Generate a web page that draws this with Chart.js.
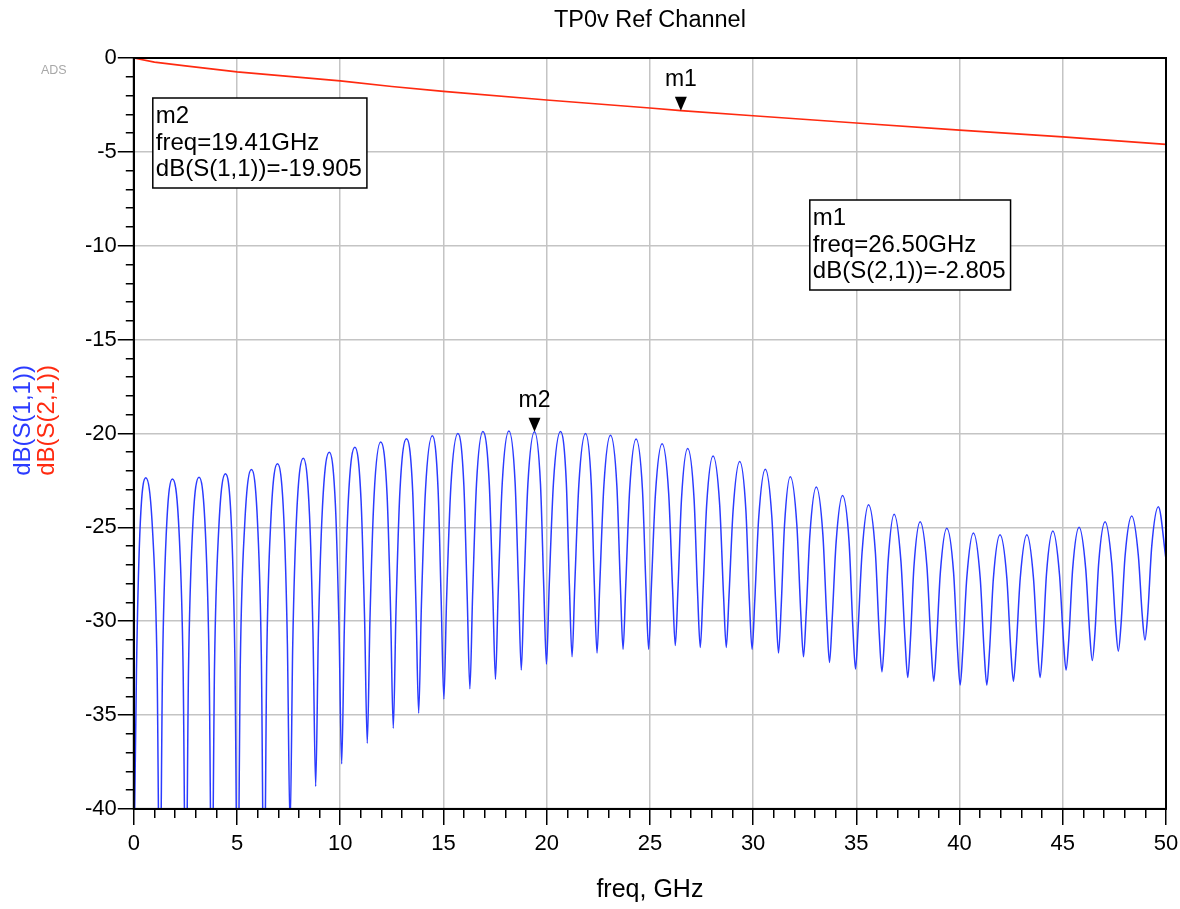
<!DOCTYPE html>
<html lang="en">
<head>
  <meta charset="UTF-8">
  <title>TP0v Ref Channel</title>
  <script src="https://cdn.jsdelivr.net/npm/chart.js"></script>
  <style>
    html, body { margin: 0; padding: 0; background: #fff; }
    #plot { display: block; }
  </style>
</head>
<body>
<canvas id="plot" width="1180" height="909"></canvas>
<script>
  // S(2,1): insertion loss
  const s21GHz = [0, 1, 2.5, 5, 7.5, 10, 12.5, 15, 20, 25, 26.5, 30, 35, 40, 45, 50];
  const s21Db = [0, -0.22, -0.42, -0.74, -0.98, -1.22, -1.52, -1.78, -2.24, -2.66, -2.805, -3.08, -3.46, -3.84, -4.2, -4.6];

  // S(1,1): ripple nulls, ripple peaks, the mid-slope points and the points just beside each null
  const nullGHz = [0, 1.26, 2.52, 3.78, 5.03, 6.31, 7.57, 8.81, 10.07, 11.31, 12.57, 13.80, 15.02, 16.28, 17.52, 18.77, 19.99, 21.23, 22.44, 23.70,
    24.94, 26.23, 27.44, 28.70, 29.95, 31.23, 32.44, 33.70, 34.96, 36.24, 37.49, 38.75, 40.03, 41.32, 42.61, 43.90, 45.16, 46.43, 47.69, 48.98];
  const nullDb = [-44, -46, -46, -46, -46, -46, -41, -38.8, -37.6, -36.5, -35.7, -34.9, -34.15, -33.6, -33.1, -32.6, -32.3, -31.9, -31.7, -31.5,
    -31.5, -31.3, -31.4, -31.4, -31.5, -31.7, -31.9, -32.2, -32.55, -32.7, -33.0, -33.2, -33.4, -33.4, -33.2, -33.0, -32.6, -32.1, -31.6, -31.0];
  const nearRiseGHz = [0.13, 1.39, 2.65, 3.91, 5.16, 6.44, 7.70, 8.94, 10.20, 11.44, 12.70, 13.93, 15.15, 16.41, 17.65, 18.90, 20.12, 21.36, 22.57, 23.83,
    25.07, 26.36, 27.57, 28.83, 30.08, 31.36, 32.57, 33.83, 35.09, 36.37, 37.62, 38.88, 40.16, 41.45, 42.74, 44.03, 45.29, 46.56, 47.82, 49.11];
  const nearFallGHz = [1.13, 2.39, 3.65, 4.90, 6.18, 7.44, 8.68, 9.94, 11.18, 12.44, 13.67, 14.89, 16.15, 17.39, 18.64, 19.86, 21.10, 22.31, 23.57,
    24.81, 26.10, 27.31, 28.57, 29.82, 31.10, 32.31, 33.57, 34.83, 36.11, 37.36, 38.62, 39.90, 41.19, 42.48, 43.77, 45.03, 46.30, 47.56, 48.85];
  const nearNullDb = [-32.6, -32.6, -32.6, -32.4, -32.2, -32.0, -31.2, -30.7, -30.3, -29.9, -29.5, -29.2, -28.9, -28.7, -28.5, -28.3, -28.2, -28.1, -28.1, -28.1,
    -28.2, -28.3, -28.5, -28.7, -28.9, -29.2, -29.6, -29.9, -30.3, -30.7, -31.0, -31.3, -31.5, -31.6, -31.5, -31.3, -31.0, -30.6, -30.2, -29.7];
  const peakGHz = [0.58, 1.87, 3.16, 4.44, 5.70, 6.96, 8.21, 9.47, 10.71, 11.96, 13.21, 14.46, 15.70, 16.91, 18.17, 19.41, 20.67, 21.88, 23.09, 24.33,
    25.59, 26.83, 28.06, 29.35, 30.59, 31.80, 33.06, 34.33, 35.59, 36.83, 38.09, 39.38, 40.67, 41.96, 43.26, 44.52, 45.79, 47.05, 48.34, 49.63];
  const peakDb = [-22.36, -22.42, -22.33, -22.15, -21.92, -21.62, -21.32, -21.0, -20.73, -20.46, -20.28, -20.12, -20.0, -19.9, -19.87, -19.905, -19.9, -20.0, -20.1, -20.3,
    -20.55, -20.8, -21.2, -21.5, -21.9, -22.3, -22.85, -23.3, -23.8, -24.3, -24.7, -25.05, -25.3, -25.4, -25.4, -25.2, -25.0, -24.7, -24.4, -23.9];
  const riseGHz = [0.29, 1.57, 2.84, 4.11, 5.37, 6.64, 7.89, 9.14, 10.39, 11.64, 12.89, 14.13, 15.36, 16.60, 17.85, 19.09, 20.33, 21.56, 22.77, 24.02,
    25.27, 26.53, 27.75, 29.03, 30.27, 31.52, 32.75, 34.02, 35.28, 36.54, 37.79, 39.07, 40.35, 41.64, 42.94, 44.21, 45.48, 46.74, 48.02, 49.31];
  const fallGHz = [0.92, 2.20, 3.47, 4.74, 6.00, 7.27, 8.51, 9.77, 11.01, 12.27, 13.51, 14.74, 15.99, 17.22, 18.47, 19.70, 20.95, 22.16, 23.40, 24.64,
    25.91, 27.14, 28.38, 29.65, 30.91, 32.12, 33.38, 34.65, 35.92, 37.16, 38.42, 39.71, 41.00, 42.29, 43.58, 44.84, 46.11, 47.37, 48.66];
  const slopeDb = [-25.4, -25.4, -25.3, -25.2, -24.9, -24.6, -24.3, -23.9, -23.6, -23.3, -23.1, -23.0, -22.8, -22.7, -22.6, -22.7, -22.6, -22.7, -22.8, -23.0,
    -23.2, -23.5, -23.8, -24.1, -24.5, -24.9, -25.4, -25.8, -26.3, -26.8, -27.1, -27.4, -27.7, -27.7, -27.7, -27.5, -27.2, -26.9, -26.5, -26.0];
  const lastGHz = 50;
  const lastDb = -26.7;

  // axis labels
  const xLabels = [0, 5, 10, 15, 20, 25, 30, 35, 40, 45, 50];
  const yLabels = [0, -5, -10, -15, -20, -25, -30, -35, -40];

  // markers
  const markerNames = ['m1', 'm2'];
  const markerGHz = [26.5, 19.41];
  const markerDb = [-2.805, -19.905];
  const markerTrace = ['dB(S(2,1))', 'dB(S(1,1))'];

  const FONT = "'Liberation Sans', Arial, sans-serif";
  const BLUE = '#2b3bff';
  const RED = '#ff2a10';

  const s21Points = s21GHz.map((f, i) => ({ x: f, y: s21Db[i] }));
  const s11Points = []
    .concat(nullGHz.map((f, i) => ({ x: f, y: nullDb[i] })))
    .concat(nearRiseGHz.map((f, i) => ({ x: f, y: nearNullDb[i] })))
    .concat(nearFallGHz.map((f, i) => ({ x: f, y: nearNullDb[i + 1] })))
    .concat(peakGHz.map((f, i) => ({ x: f, y: peakDb[i] })))
    .concat(riseGHz.map((f, i) => ({ x: f, y: slopeDb[i] })))
    .concat(fallGHz.map((f, i) => ({ x: f, y: slopeDb[i] })))
    .concat([{ x: lastGHz, y: lastDb }])
    .sort((a, b) => a.x - b.x);

  const isLabelled = (c, list) => c.tick ? list.includes(Math.round(c.tick.value)) : false;

  // frame, markers, readout boxes and the two-colour y title
  const annotate = {
    id: 'annotate',
    afterDatasetsDraw(chart) {
      const { ctx, chartArea: a, scales: { x, y } } = chart;
      ctx.save();
      ctx.strokeStyle = '#000';
      ctx.lineWidth = 2;
      ctx.strokeRect(a.left, a.top, a.right - a.left, a.bottom - a.top);

      ctx.fillStyle = '#000';
      ctx.textAlign = 'center';
      ctx.textBaseline = 'middle';
      ctx.font = '23px ' + FONT;
      markerNames.forEach((name, i) => {
        const px = x.getPixelForValue(markerGHz[i]);
        const py = y.getPixelForValue(markerDb[i]);
        ctx.beginPath();
        ctx.moveTo(px, py);
        ctx.lineTo(px - 6, py - 14);
        ctx.lineTo(px + 6, py - 14);
        ctx.closePath();
        ctx.fill();
        ctx.fillText(name, px, py - 31);
      });

      const boxLeft = [676, 19];
      const boxTop = [142, 40];
      ctx.font = '24px ' + FONT;
      ctx.textAlign = 'left';
      ctx.lineWidth = 1.5;
      markerNames.forEach((name, i) => {
        const lines = [name, 'freq=' + markerGHz[i].toFixed(2) + 'GHz', markerTrace[i] + '=' + markerDb[i].toFixed(3)];
        const w = Math.max(...lines.map(t => ctx.measureText(t).width)) + 8;
        const bx = a.left + boxLeft[i];
        const by = a.top + boxTop[i];
        ctx.fillStyle = '#fff';
        ctx.fillRect(bx, by, w, 90);
        ctx.strokeRect(bx, by, w, 90);
        ctx.fillStyle = '#000';
        lines.forEach((t, k) => ctx.fillText(t, bx + 3, by + 18.5 + k * 26.5));
      });
      ctx.restore();
    },
    afterDraw(chart) {
      const { ctx, chartArea: a } = chart;
      const cy = (a.top + a.bottom) / 2 - 13;
      ctx.save();
      ctx.font = '24px ' + FONT;
      ctx.textAlign = 'center';
      ctx.textBaseline = 'middle';
      [['dB(S(1,1))', BLUE, a.left - 110], ['dB(S(2,1))', RED, a.left - 86]].forEach(([t, col, cx]) => {
        ctx.save();
        ctx.translate(cx, cy);
        ctx.rotate(-Math.PI / 2);
        ctx.fillStyle = col;
        ctx.fillText(t, 0, 0);
        ctx.restore();
      });
      ctx.font = '12.5px ' + FONT;
      ctx.fillStyle = '#a8a8a8';
      ctx.fillText('ADS', a.left - 80, a.top + 13);
      ctx.restore();
    }
  };

  new Chart(document.getElementById('plot'), {
    type: 'line',
    data: {
      datasets: [
        { label: 'dB(S(2,1))', data: s21Points, borderColor: RED, borderWidth: 1.6, pointRadius: 0, tension: 0 },
        { label: 'dB(S(1,1))', data: s11Points, borderColor: BLUE, borderWidth: 1.5, pointRadius: 0, cubicInterpolationMode: 'monotone' }
      ]
    },
    options: {
      responsive: false,
      animation: false,
      events: [],
      layout: { padding: { left: 84, right: 14, top: 0, bottom: 0 } },
      plugins: {
        legend: { display: false },
        tooltip: { enabled: false },
        title: {
          display: true,
          text: 'TP0v Ref Channel',
          fullSize: false,
          color: '#000',
          font: { family: FONT, size: 23.5, weight: 'normal' },
          padding: { top: 6, bottom: 23.8 }
        }
      },
      scales: {
        x: {
          type: 'linear',
          min: 0,
          max: 50,
          ticks: {
            stepSize: 1,
            maxTicksLimit: 100,
            autoSkip: false,
            maxRotation: 0,
            padding: 1,
            color: '#000',
            font: { family: FONT, size: 22, lineHeight: 1.64 },
            callback: v => xLabels.includes(Math.round(v)) ? String(Math.round(v)) : ''
          },
          grid: {
            color: c => isLabelled(c, xLabels) ? '#c4c4c4' : 'rgba(0,0,0,0)',
            lineWidth: 1.5,
            tickLength: 16,
            tickColor: '#000',
            tickWidth: 1.5,
            tickBorderDash: c => isLabelled(c, xLabels) ? [] : [8, 100]
          },
          border: { color: '#000', width: 2 },
          title: {
            display: true,
            text: 'freq, GHz',
            color: '#000',
            font: { family: FONT, size: 25 },
            padding: { top: 12, bottom: 4 }
          }
        },
        y: {
          min: -40,
          max: 0,
          ticks: {
            stepSize: 1,
            maxTicksLimit: 100,
            autoSkip: false,
            padding: 1,
            color: '#000',
            font: { family: FONT, size: 22 },
            callback: v => yLabels.includes(Math.round(v)) ? String(Math.round(v)) : ''
          },
          grid: {
            color: c => isLabelled(c, yLabels) ? '#c4c4c4' : 'rgba(0,0,0,0)',
            lineWidth: 1.5,
            tickLength: 16,
            tickColor: '#000',
            tickWidth: 1.5,
            tickBorderDash: c => isLabelled(c, yLabels) ? [] : [0, 8, 100]
          },
          border: { color: '#000', width: 2 }
        }
      }
    },
    plugins: [annotate]
  });
</script>
</body>
</html>
